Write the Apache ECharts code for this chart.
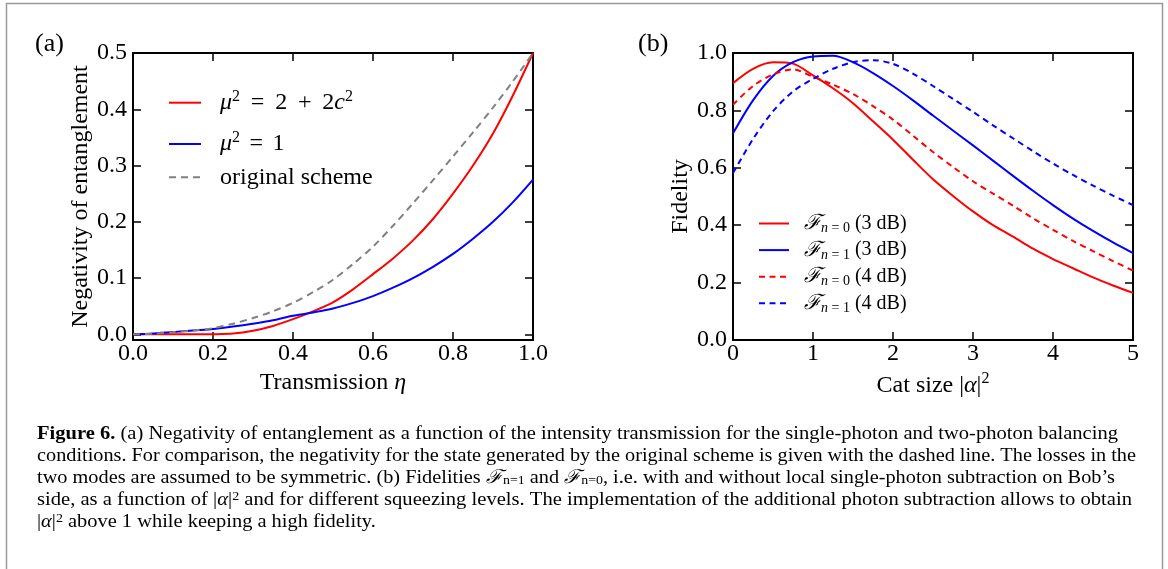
<!DOCTYPE html>
<html><head><meta charset="utf-8">
<script src="https://cdn.jsdelivr.net/npm/echarts@6.0.0/dist/echarts.min.js"></script>
<style>html,body{margin:0;padding:0;background:#fff;}#c{width:1168px;height:569px;}</style>
</head><body><div id="c"></div>
<script>
// ---------- Panel (a): negativity vs transmission ----------
const etaValues = [0,0.05,0.1,0.15,0.2,0.25,0.3,0.35,0.4,0.45,0.5,0.55,0.6,0.65,0.7,0.75,0.8,0.85,0.9,0.95,1.0];
const negTwoPhoton = [0,0,0,0,0.0003,0.0015,0.0065,0.015,0.027,0.041,0.057,0.08,0.107,0.135,0.167,0.205,0.25,0.3,0.357,0.425,0.5];
const negOnePhoton = [0,0.0015,0.004,0.007,0.0095,0.014,0.019,0.025,0.033,0.039,0.046,0.056,0.068,0.083,0.1,0.12,0.143,0.17,0.2,0.235,0.275];
const negOriginal  = [0,0.001,0.004,0.007,0.011,0.019,0.029,0.041,0.056,0.075,0.097,0.125,0.156,0.193,0.233,0.274,0.316,0.359,0.403,0.45,0.5];
const aXTicks = [0,0.2,0.4,0.6,0.8,1.0];
const aYTicks = [0,0.1,0.2,0.3,0.4,0.5];
const aNames = ['μ² = 2 + 2c²','μ² = 1','original scheme'];

// ---------- Panel (b): fidelity vs cat size ----------
const alphaValues = [0,0.25,0.5,0.75,1,1.25,1.5,1.75,2,2.25,2.5,2.75,3,3.25,3.5,3.75,4,4.25,4.5,4.75,5];
const fidN0dB3 = [0.895,0.945,0.968,0.963,0.922,0.877,0.825,0.762,0.698,0.628,0.56,0.502,0.448,0.4,0.36,0.318,0.282,0.25,0.218,0.19,0.164];
const fidN1dB3 = [0.72,0.835,0.92,0.968,0.988,0.99,0.968,0.93,0.885,0.835,0.782,0.73,0.678,0.625,0.572,0.52,0.47,0.423,0.38,0.34,0.303];
const fidN0dB4 = [0.82,0.885,0.925,0.943,0.917,0.89,0.857,0.815,0.768,0.712,0.655,0.603,0.553,0.51,0.468,0.424,0.384,0.345,0.31,0.275,0.242];
const fidN1dB4 = [0.582,0.70,0.797,0.866,0.91,0.945,0.968,0.975,0.962,0.928,0.885,0.84,0.795,0.748,0.703,0.658,0.615,0.575,0.538,0.503,0.47];
const bXTicks = [0,1,2,3,4,5];
const bYTicks = [0,0.2,0.4,0.6,0.8,1.0];
const bNames = ['ℱn=0 (3 dB)','ℱn=1 (3 dB)','ℱn=0 (4 dB)','ℱn=1 (4 dB)'];

// ---------- Caption ----------
const captionLines = [
  [['b','Figure 6.'],['t',' (a) Negativity of entanglement as a function of the intensity transmission for the single-photon and two-photon balancing']],
  [['t','conditions. For comparison, the negativity for the state generated by the original scheme is given with the dashed line. The losses in the']],
  [['t','two modes are assumed to be symmetric. (b) Fidelities '],['i','ℱ'],['s','n=1'],['t',' and '],['i','ℱ'],['s','n=0'],['t',', i.e. with and without local single-photon subtraction on Bob’s']],
  [['t','side, as a function of |'],['i','α'],['t','|'],['p','2'],['t',' and for different squeezing levels. The implementation of the additional photon subtraction allows to obtain']],
  [['t','|'],['i','α'],['t','|'],['p','2'],['t',' above 1 while keeping a high fidelity.']]
];
const captionWidths = [1081,1099,1078,1095,null];
const captionY = [434,456,478,500,522];

// ================= build =================
const SERIF = '"Liberation Serif", "DejaVu Serif", serif';
const chart = echarts.init(document.getElementById('c'), null, {renderer:'canvas'});
const pairs = (xs, ys) => xs.map((x,i)=>[x, ys[i]]);

const mkLine = () => ({show:true, onZero:false, lineStyle:{color:'#000', width:2}});
const tickLab = {color:'#000', fontFamily:SERIF, fontSize:24};
const mkTick = (extra) => Object.assign({show:true, inside:true, length:8, lineStyle:{color:'#000', width:1.5}}, extra||{});
function xAxes(gi, min, max, interval, fmt, name, rich){
  return [
    {gridIndex:gi, type:'value', min, max, interval, position:'bottom',
     axisLine:mkLine(), axisTick:mkTick(),
     axisLabel:Object.assign({margin:2, formatter:fmt, showMinLabel:true, showMaxLabel:true}, tickLab),
     splitLine:{show:false}, name, nameLocation:'middle', nameGap:31,
     nameTextStyle:{color:'#000', fontFamily:SERIF, fontSize:24, rich}},
    {gridIndex:gi, type:'value', min, max, interval, position:'top',
     axisLine:mkLine(), axisTick:mkTick(),
     axisLabel:{show:false}, splitLine:{show:false}}
  ];
}
function yAxes(gi, min, max, ticks, name){
  return [
    {gridIndex:gi, type:'value', min, max, position:'left',
     axisLine:mkLine(), axisTick:mkTick({customValues:ticks}),
     axisLabel:Object.assign({margin:6, customValues:ticks, formatter:v=>v.toFixed(1)}, tickLab),
     splitLine:{show:false}, name, nameLocation:'middle', nameGap:40,
     nameTextStyle:{color:'#000', fontFamily:SERIF, fontSize:24}},
    {gridIndex:gi, type:'value', min, max, position:'right',
     axisLine:mkLine(), axisTick:mkTick({customValues:ticks}), axisLabel:{show:false}, splitLine:{show:false}}
  ];
}

const nameRichA = {t:{fontFamily:SERIF, fontSize:24, color:'#000'}, i:{fontFamily:SERIF, fontSize:24, fontStyle:'italic', color:'#000'}};
const nameRichB = {t:{fontFamily:SERIF, fontSize:24, color:'#000', lineHeight:30}, i:{fontFamily:SERIF, fontSize:24, fontStyle:'italic', color:'#000', lineHeight:30}, sup:{fontFamily:SERIF, fontSize:16, color:'#000', verticalAlign:'top'}};

const xAxisList = [].concat(
  xAxes(0, 0, 1, 0.2, v=>v.toFixed(1), '{t|Transmission }{i|η}', nameRichA),
  xAxes(1, 0, 5, 1, v=>String(Math.round(v)), '{t|Cat size |}{i|α}{t||}{sup|2}', nameRichB)
);
const yAxisList = [].concat(
  yAxes(0, -0.01, 0.5, aYTicks, 'Negativity of entanglement'),
  yAxes(1, 0, 1, bYTicks, 'Fidelity')
);

function line(name, xi, yi, data, color, dashed){
  return {name, type:'line', xAxisIndex:xi, yAxisIndex:yi, data, showSymbol:false, symbol:'none',
    smooth:0.3, clip:true,
    lineStyle:{color, width:2, type: dashed ? dashed : 'solid'}, itemStyle:{color}, z:3};
}
const series = [
  line(aNames[0], 0, 0, pairs(etaValues, negTwoPhoton), '#ff0000'),
  line(aNames[1], 0, 0, pairs(etaValues, negOnePhoton), '#0000ff'),
  line(aNames[2], 0, 0, pairs(etaValues, negOriginal), '#808080', [7,5]),
  line(bNames[0], 2, 2, pairs(alphaValues, fidN0dB3), '#ff0000'),
  line(bNames[1], 2, 2, pairs(alphaValues, fidN1dB3), '#0000ff'),
  line(bNames[2], 2, 2, pairs(alphaValues, fidN0dB4), '#ff0000', [6,4.5]),
  line(bNames[3], 2, 2, pairs(alphaValues, fidN1dB4), '#0000ff', [6,4.5])
];

// legend formatting
const legRichA = {
  sp:{width:14},
  g:{width:10.8},
  h:{width:9.5},
  t:{fontFamily:SERIF, fontSize:24, lineHeight:28, color:'#000'},
  i:{fontFamily:SERIF, fontSize:24, lineHeight:28, fontStyle:'italic', color:'#000'},
  sup:{fontFamily:SERIF, fontSize:16, color:'#000', verticalAlign:'top'}
};
const legTextA = {};
legTextA[aNames[0]] = '{sp| }{i|μ}{sup|2}{g| }{t|=}{g| }{t|2}{g| }{t|+}{g| }{t|2}{i|c}{sup|2}';
legTextA[aNames[1]] = '{sp| }{i|μ}{sup|2}{h| }{t|=}{h| }{t|1}';
legTextA[aNames[2]] = '{sp| }{t|original scheme}';
const legRichB = {
  sp:{width:10},
  f:{fontFamily:SERIF, fontSize:21, lineHeight:24, fontStyle:'italic', color:'#000'},
  t:{fontFamily:SERIF, fontSize:20, lineHeight:24, color:'#000'},
  si:{fontFamily:SERIF, fontSize:14, fontStyle:'italic', color:'#000', verticalAlign:'bottom'},
  s:{fontFamily:SERIF, fontSize:14, color:'#000', verticalAlign:'bottom'}
};
const legTextB = {};
bNames.forEach(n=>{
  const m = n.match(/n=(\d) \((\d) dB\)/);
  legTextB[n] = '{sp| }{f|ℱ}{si|n}{s| = '+m[1]+'}{t| ('+m[2]+' dB)}';
});
const hideSymbol = {color:'rgba(0,0,0,0)', borderWidth:0, opacity:0};
const legA = (name, top) => ({data:[name], orient:'vertical', left:168, top, padding:0, itemWidth:32, itemHeight:14,
  selectedMode:false, itemStyle:hideSymbol, formatter:n=>legTextA[n], textStyle:{rich:legRichA}});
const legends = [
  legA(aNames[0], 88.7), legA(aNames[1], 130), legA(aNames[2], 165.3),
  {data:bNames, orient:'vertical', left:758, top:213, padding:0, itemGap:4.1, itemWidth:30, itemHeight:14,
   selectedMode:false, itemStyle:hideSymbol, formatter:n=>legTextB[n], textStyle:{rich:legRichB}}
];

// caption graphics
const CAP = 19;
const capRich = {
  t:{fontFamily:SERIF, fontSize:CAP, color:'#000'},
  b:{fontFamily:SERIF, fontSize:CAP, fontWeight:'bold', color:'#000'},
  i:{fontFamily:SERIF, fontSize:CAP, fontStyle:'italic', color:'#000'},
  s:{fontFamily:SERIF, fontSize:13, color:'#000', verticalAlign:'bottom'},
  p:{fontFamily:SERIF, fontSize:13, color:'#000', verticalAlign:'top'}
};
const mctx = document.createElement('canvas').getContext('2d');
function segFont(k){
  const fam = '"Liberation Serif", "DejaVu Serif", serif';
  if (k==='b') return 'bold '+CAP+'px '+fam;
  if (k==='i') return 'italic '+CAP+'px '+fam;
  if (k==='s' || k==='p') return '13px '+fam;
  return CAP+'px '+fam;
}
function measure(segs){ let w=0; segs.forEach(([k,t])=>{ mctx.font = segFont(k); w += mctx.measureText(t).width; }); return w; }
const scales = captionLines.map((segs,i)=> captionWidths[i] ? captionWidths[i]/measure(segs) : null);
const avgScale = scales.filter(s=>s).reduce((a,b)=>a+b,0)/scales.filter(s=>s).length;
const graphics = [
  {type:'rect', shape:{x:6.5, y:3.5, width:1156, height:620}, style:{fill:'none', stroke:'#9a9a9a', lineWidth:1.5}, silent:true},
  {type:'text', x:35, y:44, style:{text:'(a)', fontFamily:SERIF, fontSize:26, fill:'#000', verticalAlign:'middle', align:'left'}},
  {type:'text', x:638, y:44, style:{text:'(b)', fontFamily:SERIF, fontSize:26, fill:'#000', verticalAlign:'middle', align:'left'}}
];
captionLines.forEach((segs,i)=>{
  const txt = segs.map(([k,t])=>'{'+k+'|'+t+'}').join('');
  graphics.push({type:'text', x:37, y:captionY[i], scaleX: scales[i] || avgScale,
    style:{text:txt, rich:capRich, align:'left', verticalAlign:'middle', fill:'#000'}});
});

chart.setOption({
  backgroundColor:'#fff',
  animation:false,
  grid:[
    {left:133, top:53, width:400, height:287, outerBoundsMode:'none', containLabel:false},
    {left:733, top:53, width:400, height:287, outerBoundsMode:'none', containLabel:false}
  ],
  xAxis:xAxisList,
  yAxis:yAxisList,
  legend:legends,
  series,
  graphic:graphics
});
</script></body></html>
